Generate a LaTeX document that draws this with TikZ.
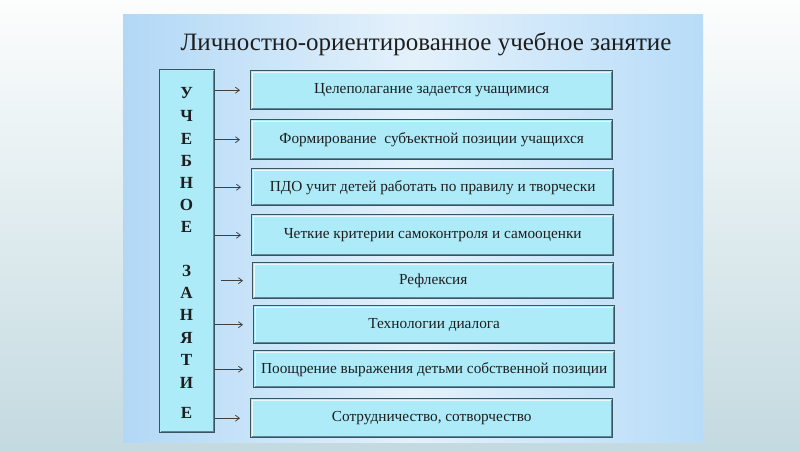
\documentclass[tikz,border=0pt]{standalone}
\usepackage{fontspec}
\setmainfont{Liberation Serif}
\usetikzlibrary{arrows.meta}
\definecolor{pagetop}{HTML}{FCFDFD}
\definecolor{pagebot}{HTML}{C3DAE0}
\definecolor{panelA}{HTML}{B2D8F6}
\definecolor{panelB}{HTML}{E4F1FB}
\definecolor{panelC}{HTML}{B8DCF8}
\definecolor{boxfill}{HTML}{ADEBF9}
\definecolor{boxedge}{HTML}{3A5462}
\definecolor{boxshade}{HTML}{5A8898}
\definecolor{txt}{HTML}{1E1E1E}
\tikzset{
  itembox/.style={draw=boxedge, line width=1.4pt, fill=boxfill, inner sep=0pt, anchor=north west},
  itemtext/.style={font=\fontsize{15.3}{17}\selectfont, text=txt},
  letter/.style={font=\bfseries\fontsize{17}{19}\selectfont, text=txt, inner sep=0pt},
  conn/.style={-{Straight Barb[length=4pt,width=6pt]}, draw=txt!85, line width=0.75pt}
}
\begin{document}
\begin{tikzpicture}[x=1pt,y=-1pt]
\useasboundingbox (0,0) rectangle (800,450);
% page background
\shade[top color=pagetop, bottom color=pagebot] (0,0) rectangle (800,450);
% panel
\shade[left color=panelA, right color=panelC, middle color=panelB] (123,14) rectangle (703,442);
\node[font=\fontsize{25}{29}\selectfont, text=txt] (title) at (426,44) {Личностно-ориентированное учебное занятие};
% left box
\node[itembox, minimum width=55pt, minimum height=363pt] (L) at (159,69) {};
\draw[boxshade, line width=1.6pt] ([shift={(-2,1.5)}]L.north east) -- ([shift={(-2,-2)}]L.south east) -- ([shift={(2,-2)}]L.south west);
\foreach \ch/\yy [count=\i] in {У/93,Ч/116,Е/139,Б/161,Н/183,О/205,Е/227,З/271,А/293,Н/315,Я/338,Т/360,И/383,Е/413}
  \node[letter] (ltr\i) at (186.5,\yy) {\ch};
% item boxes
\newcommand\itembox[6]{%
  \node[itembox, minimum width=#3pt, minimum height=#4pt] (#1) at (#2) {};
  \draw[boxshade, line width=1.6pt] ([shift={(-2,1.5)}]#1.north east) -- ([shift={(-2,-2)}]#1.south east) -- ([shift={(2,-2)}]#1.south west);
  \draw[white!70!boxfill, line width=1pt] ([shift={(2,-2)}]#1.south west) -- ([shift={(2,2)}]#1.north west) -- ([shift={(-2,2)}]#1.north east);
  \node[itemtext] (#1t) at (#1.center) {#6};
}
\itembox{b1}{250,70}{362}{39}{}{Целеполагание задается учащимися}
\itembox{b2}{250,119}{362}{40}{}{Формирование\ \ субъектной позиции учащихся}
\itembox{b3}{251,168}{362}{37}{}{ПДО учит детей работать по правилу и творчески}
\itembox{b4}{251,214}{362}{41}{}{Четкие критерии самоконтроля и самооценки}
\itembox{b5}{252,262}{361}{36}{}{Рефлексия}
\itembox{b6}{253,305}{361}{38}{}{Технологии диалога}
\itembox{b7}{253,350}{361}{37}{}{Поощрение выражения детьми собственной позиции}
\itembox{b8}{250,398}{362}{39}{}{Сотрудничество, сотворчество}
% connectors
\foreach \b in {b1,b2,b3,b4,b6,b7,b8}
  \draw[conn, shorten >=10pt] (L.east |- \b.west) -- (\b.west);
\draw[conn, shorten <=6pt, shorten >=9pt] (L.east |- b5.west) -- (b5.west);
\end{tikzpicture}
\end{document}
